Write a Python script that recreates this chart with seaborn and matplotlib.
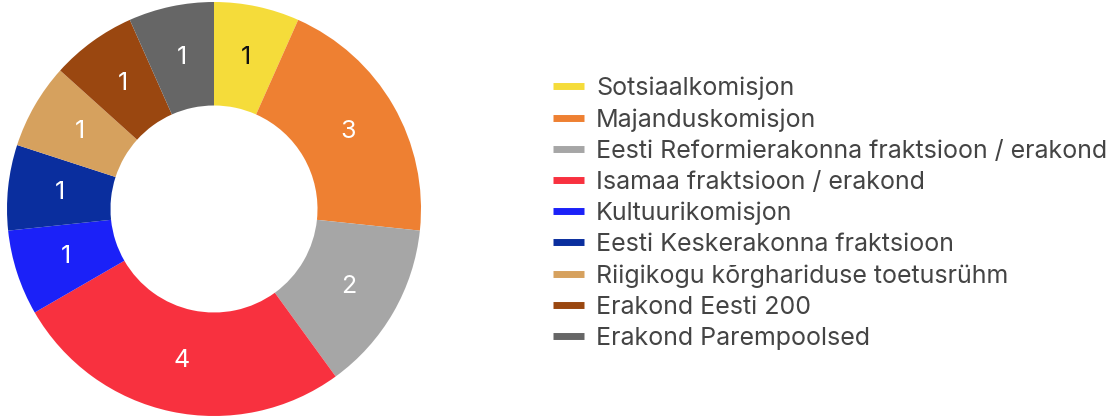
import matplotlib
matplotlib.use("Agg")
import matplotlib.pyplot as plt
import seaborn as sns
import numpy as np
from matplotlib.lines import Line2D

categories = [
    "Sotsiaalkomisjon",
    "Majanduskomisjon",
    "Eesti Reformierakonna fraktsioon / erakond",
    "Isamaa fraktsioon / erakond",
    "Kultuurikomisjon",
    "Eesti Keskerakonna fraktsioon",
    "Riigikogu kõrghariduse toetusrühm",
    "Erakond Eesti 200",
    "Erakond Parempoolsed",
]
values = [1, 3, 2, 4, 1, 1, 1, 1, 1]
colors = ["#F5DC3A", "#EE8032", "#A6A6A6", "#F8313F", "#1B21F8",
          "#0A2E9E", "#D6A15E", "#9A4710", "#666666"]
label_colors = ["#111111"] + ["white"] * 8

sns.set_theme(style="white")
plt.rcParams["font.family"] = ["Inter", "DejaVu Sans"]

fig = plt.figure(figsize=(11.16, 4.18), dpi=100)
ax = fig.add_axes([7 / 1116, 2 / 418, 414 / 1116, 414 / 418])

ax.pie(values, colors=colors, startangle=90, counterclock=False,
       radius=1.0, wedgeprops=dict(width=0.5, linewidth=0))
ax.set_xlim(-1, 1)
ax.set_ylim(-1, 1)
ax.set_aspect("equal")
ax.axis("off")

# value labels in the middle of the ring
total = sum(values)
angle = 90.0
for v, c in zip(values, label_colors):
    span = 360.0 * v / total
    mid = np.deg2rad(angle - span / 2)
    ax.text(0.75 * np.cos(mid), 0.75 * np.sin(mid), str(v), ha="center",
            va="center", fontsize=18, color=c)
    angle -= span

handles = [Line2D([0], [0], color=c, lw=5, solid_capstyle="butt") for c in colors]
fig.legend(handles, categories, loc="center left",
           bbox_to_anchor=(530 / 1116, 0.49), frameon=False,
           fontsize=18, handlelength=1.25, handletextpad=0.5,
           labelspacing=0.32, labelcolor="#444444")

fig.savefig("out.png", dpi=100)
